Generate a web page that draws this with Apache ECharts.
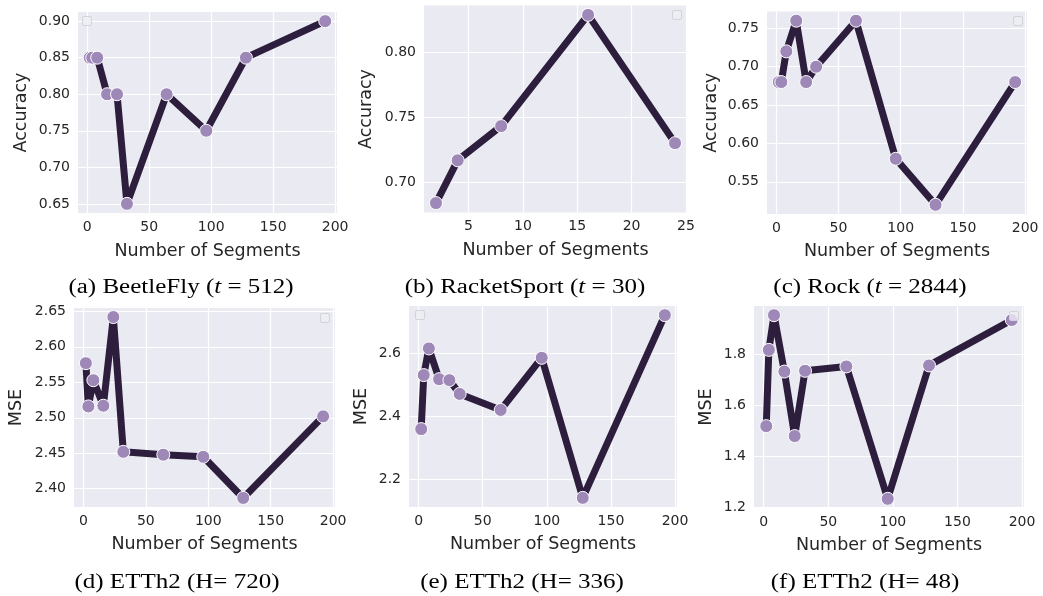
<!DOCTYPE html>
<html>
<head>
<meta charset="utf-8">
<script src="https://cdn.jsdelivr.net/npm/echarts@6/dist/echarts.min.js"></script>
<style>
  html, body { margin: 0; padding: 0; background: #ffffff; }
  #chart { width: 1043px; height: 596px; }
</style>
</head>
<body>
<div id="chart"></div>
<script>
// ---- data ----
const segments = [2, 4, 8, 16, 24, 32, 64, 96, 128, 192];
const segmentsRacket = [2, 4, 8, 16, 24];
const beetleFlyAcc = [0.85, 0.85, 0.85, 0.80, 0.80, 0.65, 0.80, 0.75, 0.85, 0.90];
const racketSportAcc = [0.6842, 0.7171, 0.7434, 0.8289, 0.7303];
const rockAcc = [0.68, 0.68, 0.72, 0.76, 0.68, 0.70, 0.76, 0.58, 0.52, 0.68];
const etth2H720 = [2.577, 2.516, 2.553, 2.517, 2.642, 2.452, 2.448, 2.445, 2.387, 2.502];
const etth2H336 = [2.359, 2.531, 2.616, 2.518, 2.515, 2.471, 2.420, 2.586, 2.140, 2.722];
const etth2H48 = [1.518, 1.817, 1.953, 1.732, 1.479, 1.735, 1.752, 1.233, 1.756, 1.934];

// ---- tick labels ----
const segTicks = [0, 50, 100, 150, 200];
const racketTicks = [5, 10, 15, 20, 25];
const beetleTicks = [0.65, 0.70, 0.75, 0.80, 0.85, 0.90];
const racketYTicks = [0.70, 0.75, 0.80];
const rockTicks = [0.55, 0.60, 0.65, 0.70, 0.75];
const h720Ticks = [2.40, 2.45, 2.50, 2.55, 2.60, 2.65];
const h336Ticks = [2.2, 2.4, 2.6];
const h48Ticks = [1.2, 1.4, 1.6, 1.8];

const captions = [
  ['(a) BeetleFly (', 't', ' = 512)'],
  ['(b) RacketSport (', 't', ' = 30)'],
  ['(c) Rock (', 't', ' = 2844)'],
  ['(d) ETTh2 (H= 720)', '', ''],
  ['(e) ETTh2 (H= 336)', '', ''],
  ['(f) ETTh2 (H= 48)', '', '']
];

// ---- layout ----
const panels = [
  { x: segments, y: beetleFlyAcc, xt: segTicks, yt: beetleTicks, dec: 2, yname: 'Accuracy',
    grid: { left: 78, top: 12, width: 259, height: 201 }, yGap: 48, xGap: 29,
    cap: [181, 288], leg: [87, 21] },
  { x: segmentsRacket, y: racketSportAcc, xt: racketTicks, yt: racketYTicks, dec: 2, yname: 'Accuracy',
    grid: { left: 424, top: 5.5, width: 263, height: 207 }, yGap: 49, xGap: 29,
    cap: [525, 288], leg: [677, 15] },
  { x: segments, y: rockAcc, xt: segTicks, yt: rockTicks, dec: 2, yname: 'Accuracy',
    grid: { left: 767, top: 11.5, width: 260, height: 202.5 }, yGap: 47, xGap: 28,
    cap: [870, 288], leg: [1018, 21] },
  { x: segments, y: etth2H720, xt: segTicks, yt: h720Ticks, dec: 2, yname: 'MSE',
    grid: { left: 74, top: 308, width: 261, height: 199 }, yGap: 49, xGap: 28,
    cap: [177, 583], leg: [325, 318] },
  { x: segments, y: etth2H336, xt: segTicks, yt: h336Ticks, dec: 1, yname: 'MSE',
    grid: { left: 409, top: 306, width: 268, height: 201 }, yGap: 39, xGap: 28,
    cap: [522, 583], leg: [420, 315] },
  { x: segments, y: etth2H48, xt: segTicks, yt: h48Ticks, dec: 1, yname: 'MSE',
    grid: { left: 754, top: 306, width: 270, height: 202 }, yGap: 39, xGap: 28,
    cap: [865, 583], leg: [1014, 316] }
];

function padRange(arr) {
  const mn = Math.min(...arr), mx = Math.max(...arr);
  const p = (mx - mn) * 0.05;
  return [mn - p, mx + p];
}

const textColor = '#262626';
const grids = [], xAxes = [], yAxes = [], series = [], graphics = [];

panels.forEach((pn, i) => {
  grids.push(Object.assign({ show: true, backgroundColor: '#EAEAF2', borderWidth: 0 }, pn.grid));
  const xr = padRange(pn.x), yr = padRange(pn.y);
  xAxes.push({
    type: 'value', gridIndex: i, min: xr[0], max: xr[1],
    name: 'Number of Segments', nameLocation: 'middle', nameGap: pn.xGap,
    nameTextStyle: { fontFamily: 'DejaVu Sans', fontSize: 17.5, color: textColor },
    axisLine: { show: false },
    axisTick: { show: false, customValues: pn.xt },
    axisLabel: { customValues: pn.xt, fontFamily: 'DejaVu Sans', fontSize: 14, color: textColor, margin: 7,
      formatter: v => String(Math.round(v)) },
    splitLine: { show: true, lineStyle: { color: '#ffffff', width: 1.2 } }
  });
  yAxes.push({
    type: 'value', gridIndex: i, min: yr[0], max: yr[1],
    name: pn.yname, nameLocation: 'middle', nameGap: pn.yGap, nameRotate: 90,
    nameTextStyle: { fontFamily: 'DejaVu Sans', fontSize: 17.5, color: textColor },
    axisLine: { show: false },
    axisTick: { show: false, customValues: pn.yt },
    axisLabel: { customValues: pn.yt, fontFamily: 'DejaVu Sans', fontSize: 14, color: textColor, margin: 8,
      formatter: v => v.toFixed(pn.dec) },
    splitLine: { show: true, lineStyle: { color: '#ffffff', width: 1.2 } }
  });
  series.push({
    type: 'line', xAxisIndex: i, yAxisIndex: i,
    data: pn.x.map((xv, k) => [xv, pn.y[k]]),
    symbol: 'circle', symbolSize: 13,
    lineStyle: { color: '#2D1E3E', width: 7, join: 'round', cap: 'round' },
    itemStyle: { color: '#9E88B8', borderColor: '#ffffff', borderWidth: 1 },
    emphasis: { disabled: true },
    animation: false, z: 3
  });
  // empty legend frame
  graphics.push({
    type: 'rect', shape: { x: pn.leg[0] - 4.5, y: pn.leg[1] - 4.5, width: 9, height: 9, r: 1.5 },
    style: { fill: 'rgba(238,238,244,0.8)', stroke: '#d3d3d9', lineWidth: 1 }, z: 10
  });
  const c = captions[i];
  const txt = c[1] ? c[0] + '{i|' + c[1] + '}' + c[2] : c[0];
  graphics.push({
    type: 'text', x: pn.cap[0], y: pn.cap[1], z: 10, scaleX: 1.22, scaleY: 1.0,
    style: {
      text: txt, fontFamily: 'Liberation Serif', fontSize: 20.5, fill: '#000000',
      align: 'center', verticalAlign: 'middle',
      rich: { i: { fontFamily: 'Liberation Serif', fontStyle: 'italic', fontSize: 20.5, fill: '#000000' } }
    }
  });
});

const chart = echarts.init(document.getElementById('chart'), null, { renderer: 'canvas' });
chart.setOption({
  animation: false,
  backgroundColor: '#ffffff',
  grid: grids,
  xAxis: xAxes,
  yAxis: yAxes,
  series: series,
  graphic: graphics
});
</script>
</body>
</html>
